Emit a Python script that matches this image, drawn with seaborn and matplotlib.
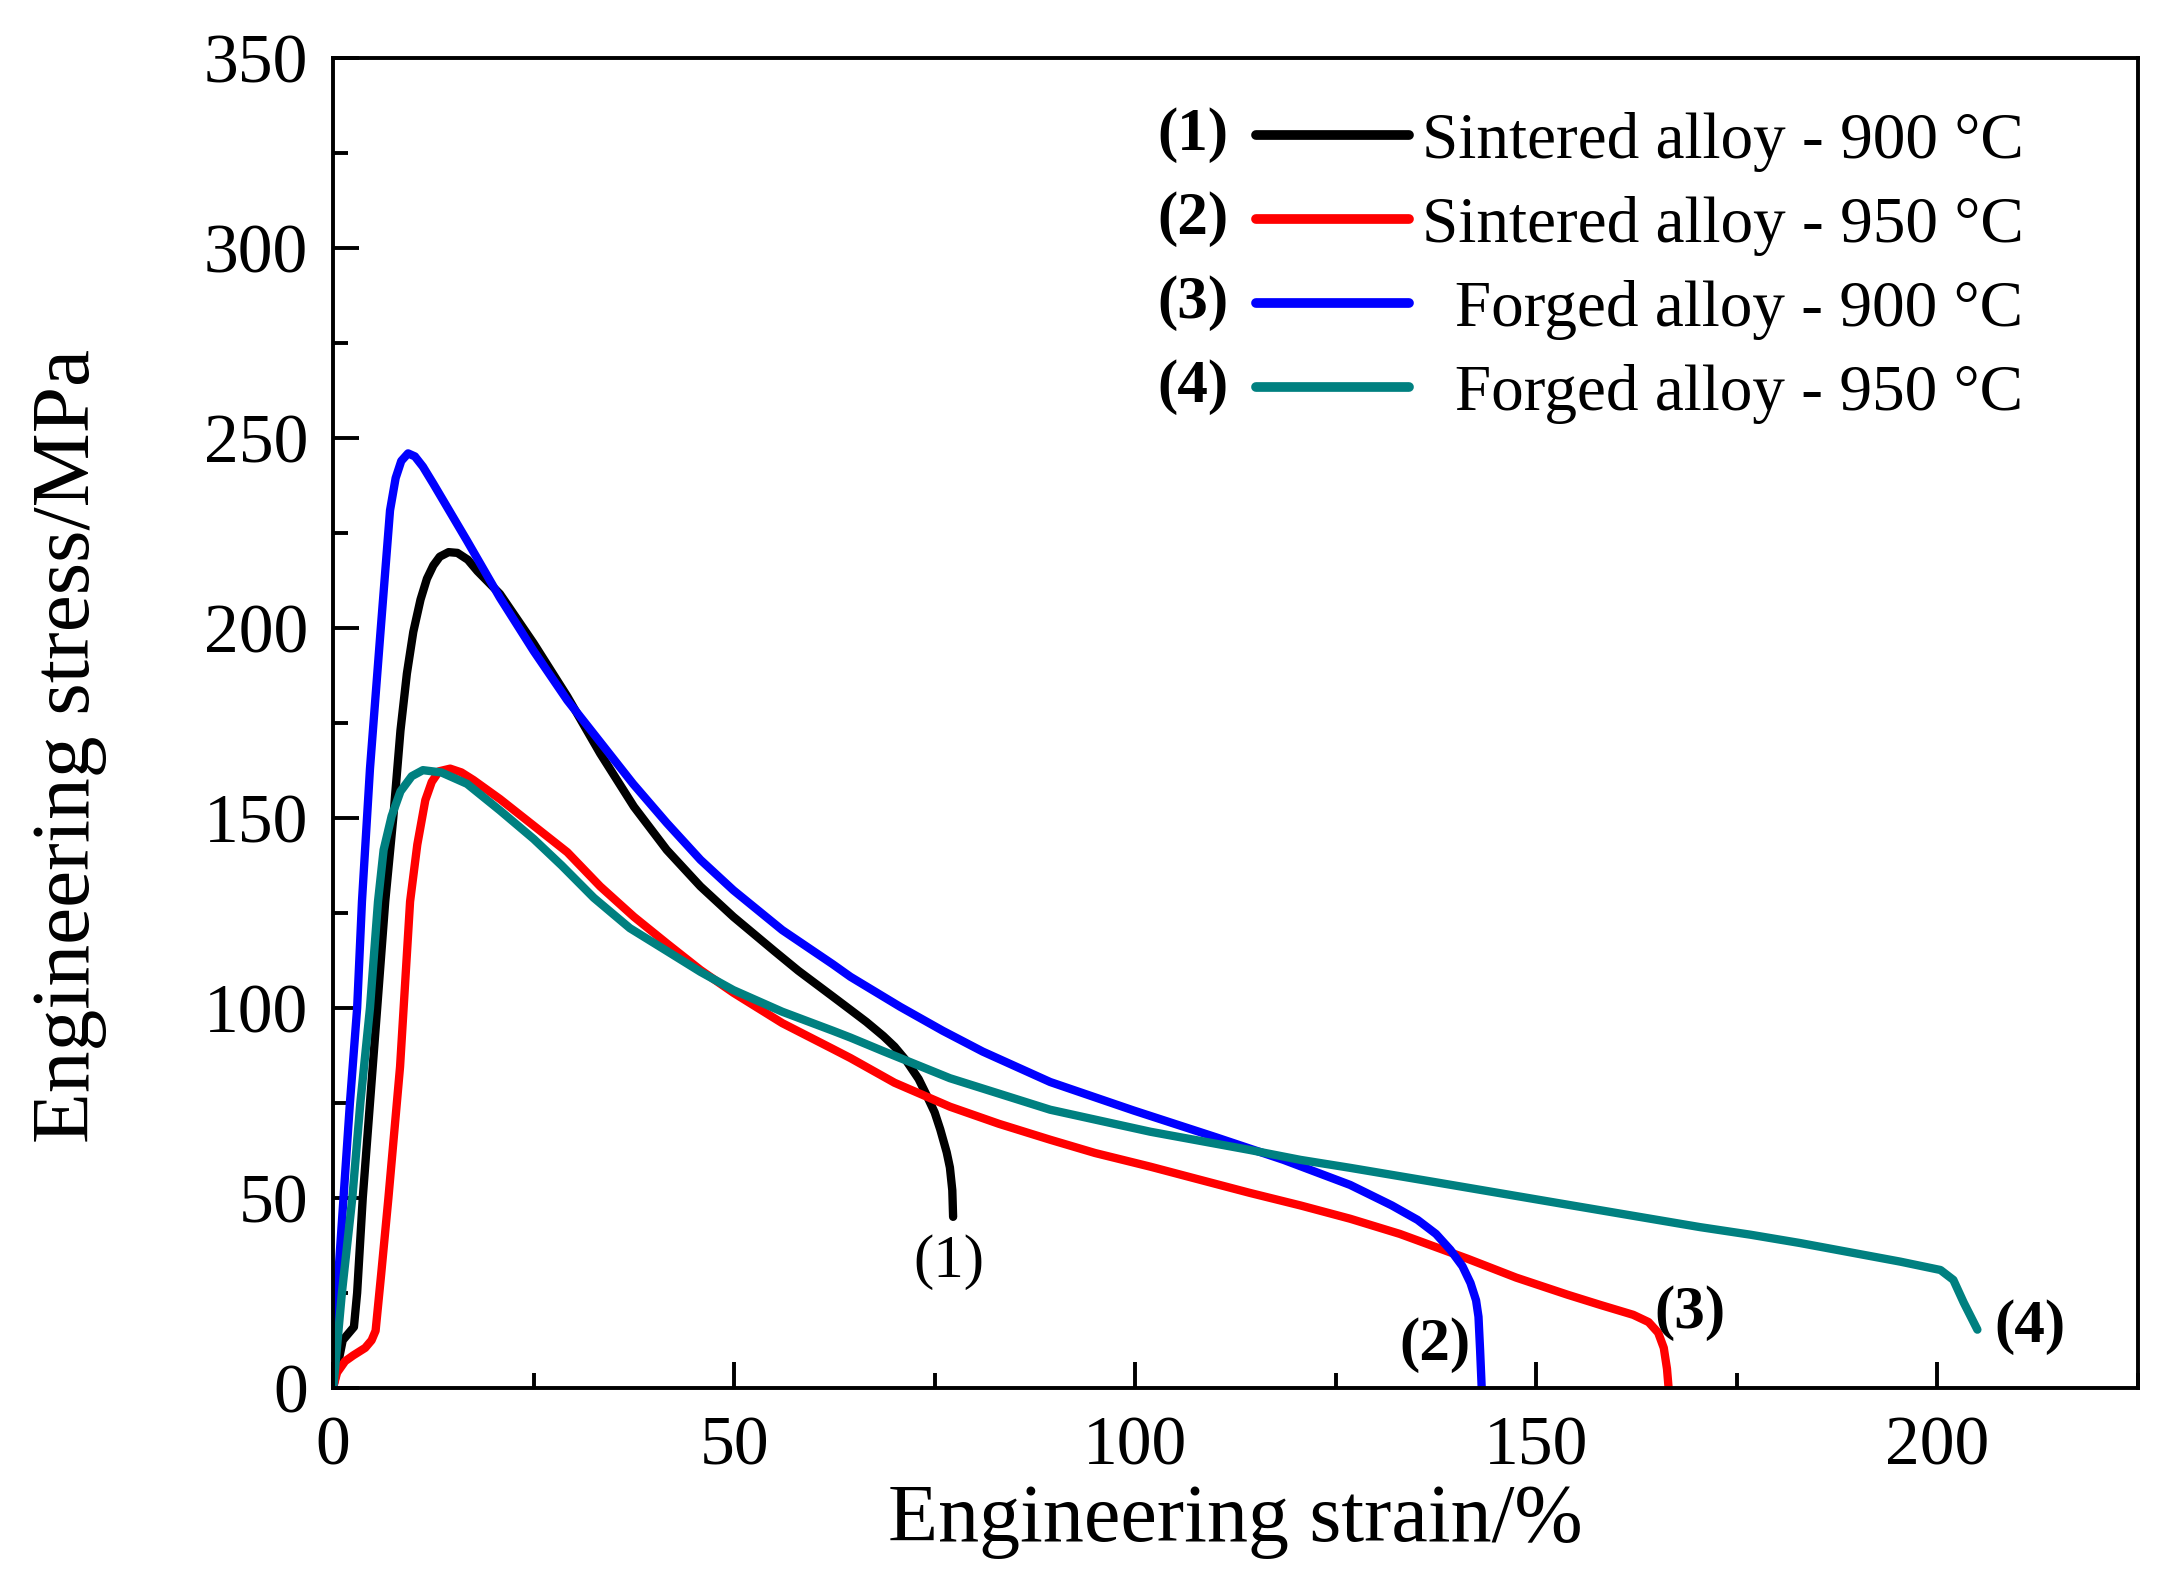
import numpy as np
import pandas as pd
import matplotlib
matplotlib.use("Agg")
import matplotlib.pyplot as plt
from matplotlib.ticker import MultipleLocator
import seaborn as sns


# DATA

labels = [
    "Sintered alloy - 900 °C",
    "Sintered alloy - 950 °C",
    "  Forged alloy - 900 °C",
    "  Forged alloy - 950 °C",
]
tags = ["(1)", "(2)", "(3)", "(4)"]
colors = ["#000000", "#ff0000", "#0000ff", "#008080"]

strain_1 = [0, 0.3, 1.2, 2.6, 3.0, 3.7, 4.6, 5.5, 6.5, 7.5, 8.4, 9.2, 10.0, 10.9,
            11.7, 12.5, 13.3, 14.4, 15.5, 16.8, 18.0, 20.8, 25.0, 29.2, 33.3, 37.5,
            41.6, 45.8, 49.9, 55.0, 58.0, 62.3, 64.5, 66.5, 68.6, 70.0, 71.5, 73.0,
            74.0, 75.0, 75.7, 76.5, 76.9, 77.2, 77.3]
stress_1 = [0, 3, 12.5, 16, 25, 50, 75, 100, 128, 150, 173, 188, 199, 207.5,
            213, 216.5, 218.8, 220, 219.8, 218, 215, 209, 196, 182, 167, 153,
            141.6, 132, 124, 115, 109.8, 103, 99.5, 96.3, 92.6, 89.8, 86, 81.3,
            77, 72.5, 68, 62, 58, 52, 45]

strain_2 = [0, 0.5, 1.5, 2.5, 4.0, 4.8, 5.3, 6.0, 6.9, 8.35, 9.6, 10.5, 11.5, 12.3,
            13.2, 14.6, 16.0, 17.5, 20.8, 25.0, 29.2, 33.3, 37.5, 41.6, 45.8, 49.9,
            56.0, 62.3, 64.5, 70.0, 76.9, 83.0, 89.4, 95.0, 101.9, 108.0, 114.3,
            120.6, 126.8, 133.0, 141.4, 147.5, 153.9, 158.0, 162.1, 164.0, 165.2,
            165.9, 166.3, 166.5]
stress_2 = [0, 4, 7, 8.5, 10.5, 12.5, 15, 30, 50, 84.5, 128, 143, 154.7, 159.5,
            162.3, 163, 162, 160, 155, 148, 141, 132, 124, 117, 110, 104,
            96, 89.2, 86.8, 80.3, 74, 69.5, 65.3, 61.8, 58.2, 54.8, 51.3,
            48, 44.5, 40.5, 34, 29, 24.5, 21.8, 19.2, 17.3, 14.5,
            10.5, 5, 0]

strain_3 = [0, 0.5, 1.3, 2.1, 3.0, 3.6, 4.6, 5.9, 7.1, 7.8, 8.5, 9.35, 10.2, 11.2,
            12.5, 16.7, 20.8, 25.0, 29.2, 33.3, 37.4, 41.6, 45.8, 49.9, 56.0, 62.3,
            64.5, 70.7, 76.0, 81.0, 89.4, 99.8, 110.0, 118.5, 126.8, 132.0, 135.2,
            137.5, 139.3, 140.8, 141.8, 142.5, 142.8, 143.0, 143.2]
stress_3 = [0, 25, 50, 75, 100, 128, 163, 198.7, 231, 239.5, 244, 246, 245.2, 242.5,
            238, 223, 208, 194, 181, 170, 159, 148.7, 139, 131, 120.5, 111.5,
            108.2, 100.3, 94, 88.5, 80.5, 73, 66, 60, 53.4, 48, 44.2,
            40.5, 36.3, 32, 27.6, 23, 18.7, 10, 0]

strain_4 = [0, 0.2, 1.1, 2.4, 3.4, 4.6, 5.6, 6.3, 7.3, 8.4, 9.8, 11.2, 13.5, 16.7,
            20.8, 25.0, 28.5, 32.5, 37.0, 41.6, 45.8, 49.9, 56.0, 62.3, 64.5, 68.6,
            76.9, 89.4, 101.9, 114.3, 120.6, 126.8, 137.2, 153.9, 170.4, 176.7,
            182.9, 195.4, 200.4, 202.0, 203.3, 205.0]
stress_4 = [0, 4, 25, 50, 75, 100, 128, 141.6, 150.5, 157, 161, 162.6, 162, 159,
            152, 144.5, 137.5, 129, 121, 115, 109.5, 104.7, 99, 94, 92.2, 88.6,
            81.5, 73.2, 67.4, 62.6, 60, 57.9, 54.2, 48.2, 42.3, 40.3,
            38.1, 33.2, 31, 28.4, 22.4, 15.3]

curves = [(strain_1, stress_1), (strain_2, stress_2),
          (strain_3, stress_3), (strain_4, stress_4)]

# curve-end labels as they appear in the picture
end_tags = ["(1)", "(2)", "(3)", "(4)"]
end_x = [76.8, 137.4, 169.2, 211.6]
end_y = [33, 11.3, 19.7, 16]
end_bold = [False, True, True, True]


# STYLE

sns.set_theme(style="ticks")
plt.rcParams["font.family"] = ["Liberation Serif", "DejaVu Serif"]
plt.rcParams["text.color"] = "black"
plt.rcParams["axes.labelcolor"] = "black"
plt.rcParams["xtick.color"] = "black"
plt.rcParams["ytick.color"] = "black"
plt.rcParams["lines.solid_joinstyle"] = "round"

fig = plt.figure(figsize=(21.77, 15.77), dpi=100)
ax = fig.add_axes([0.153, 0.12, 0.829, 0.843])
fig.patch.set_facecolor("white")
ax.set_facecolor("white")


# PLOT

for (sx, sy), lab, col in zip(curves, labels, colors):
    df = pd.DataFrame({"strain": sx, "stress": sy})
    sns.lineplot(
        data=df,
        x="strain",
        y="stress",
        sort=False,
        estimator=None,
        color=col,
        linewidth=6,
        label=lab,
        ax=ax
    )

for t, x, y, b in zip(end_tags, end_x, end_y, end_bold):
    ax.text(x, y, t, ha="center", va="center", fontsize=44,
            fontweight="bold" if b else "normal")


# AXES

ax.set_xlim(0, 225)
ax.set_ylim(0, 350)
ax.set_xticks([0, 50, 100, 150, 200])
ax.set_yticks([0, 50, 100, 150, 200, 250, 300, 350])
ax.xaxis.set_minor_locator(MultipleLocator(25))
ax.yaxis.set_minor_locator(MultipleLocator(25))

ax.tick_params(which="both", direction="in", top=False, right=False,
               width=2.8, color="black", labelsize=50, labelcolor="black")
ax.tick_params(which="major", length=19)
ax.tick_params(which="minor", length=11)
ax.tick_params(axis="x", pad=20)
ax.tick_params(axis="y", pad=18)

for s in ax.spines.values():
    s.set_color("black")
    s.set_linewidth(2.8)

ax.set_xlabel("Engineering strain/%", fontsize=59, color="black")
ax.set_ylabel("Engineering stress/MPa", fontsize=60, color="black")
ax.xaxis.set_label_coords(0.5, -0.072)
ax.yaxis.set_label_coords(-0.125, 0.483)


# LEGEND

leg = ax.legend(
    loc="upper right",
    bbox_to_anchor=(0.937, 0.960),
    frameon=False,
    fontsize=47,
    borderpad=0,
    borderaxespad=0,
    handlelength=2.35,
    handletextpad=0.2,
    labelspacing=0.37
)
for h in leg.get_lines():
    h.set_linewidth(7)
for txt in leg.get_texts():
    txt.set_color("black")

fig.canvas.draw()
renderer = fig.canvas.get_renderer()
inv = fig.transFigure.inverted()
for h, t in zip(leg.get_lines(), tags):
    bb = h.get_window_extent(renderer)
    px, py = inv.transform((bb.x0 - 27, (bb.y0 + bb.y1) / 2))
    fig.text(px, py, t, ha="right", va="center", fontsize=44,
             fontweight="bold", color="black")

fig.savefig("out.png", dpi=100, facecolor="white")
